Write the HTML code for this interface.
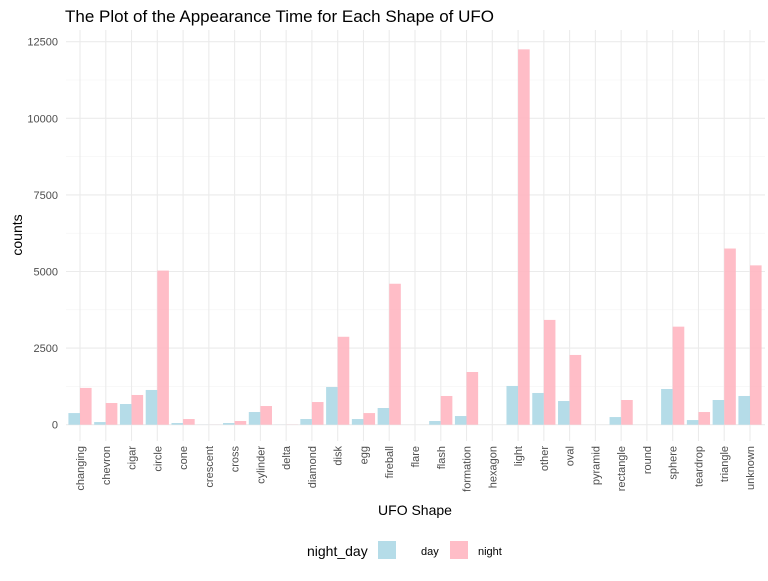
<!DOCTYPE html>
<html><head><meta charset="utf-8"><style>
body{margin:0;background:#fff;font-family:"Liberation Sans",sans-serif;}
</style></head><body>
<svg id="chart" width="768" height="576" xmlns="http://www.w3.org/2000/svg" font-family="Liberation Sans, sans-serif">
<text x="65" y="22" font-size="17" fill="#000">The Plot of the Appearance Time for Each Shape of UFO</text>
<text transform="translate(22,235) rotate(-90)" text-anchor="middle" font-size="14">counts</text>
<text x="415" y="515" text-anchor="middle" font-size="14">UFO Shape</text>
<g id="grid"></g><g id="bars"></g><g id="labels"></g>
<g>
<text x="307" y="556" font-size="14">night_day</text>
<rect x="378" y="541" width="18" height="18" fill="#add8e6" opacity="0.9"/>
<text x="421" y="555" font-size="11">day</text>
<rect x="450" y="541" width="18" height="18" fill="#ffb6c1" opacity="0.9"/>
<text x="478" y="555" font-size="11">night</text>
</g>
</svg>
<script>
const categories=["changing","chevron","cigar","circle","cone","crescent","cross","cylinder","delta","diamond","disk","egg","fireball","flare","flash","formation","hexagon","light","other","oval","pyramid","rectangle","round","sphere","teardrop","triangle","unknown"];
const dayValues=[380,87,675,1133,55,2,55,414,2,185,1230,185,545,0,120,283,0,1264,1035,773,0,250,0,1165,152,806,937];
const nightValues=[1200,708,970,5030,185,2,120,610,5,740,2870,380,4600,0,937,1720,0,12250,3420,2276,0,806,0,3200,414,5750,5200];
const yTicks=[0,2500,5000,7500,10000,12500];
</script>
<script>
const NS="http://www.w3.org/2000/svg";
// note: categories list has 27 entries; visible labels in reference are 25 (crescent..); keep as read
const cats=categories;
const x0=80,x1=750;
const step=(x1-x0)/(cats.length-1);
const xc=i=>x0+i*step;
const y=v=>424.7-v*0.03064;
const grid=document.getElementById('grid'),bars=document.getElementById('bars'),labels=document.getElementById('labels');
function mk(tag,attrs,parent){const e=document.createElementNS(NS,tag);for(const k in attrs)e.setAttribute(k,attrs[k]);parent.appendChild(e);return e;}
for(let i=0;i<yTicks.length;i++){
  const v=yTicks[i];
  const l=mk('line',{x1:66,x2:765,y1:y(v),y2:y(v),stroke:'#ebebeb','stroke-width':1.1},grid);
  
  
  if(i<yTicks.length-1){const m=mk('line',{x1:66,x2:765,y1:y(v+1250),y2:y(v+1250),stroke:'#f3f3f3','stroke-width':0.6},grid);
  
  }
  const t=mk('text',{x:58,y:y(v)+4,'text-anchor':'end','font-size':11,fill:'#4d4d4d'},labels);
  t.textContent=v;
  
  
}
const bw=step*0.9/2;
cats.forEach((c,i)=>{
  const g=mk('line',{x1:xc(i),x2:xc(i),y1:30,y2:441,stroke:'#ebebeb','stroke-width':1.1},grid);
  
  
  const d=mk('rect',{x:xc(i)-bw,y:y(dayValues[i]),width:bw,height:424.7-y(dayValues[i]),fill:'#add8e6','fill-opacity':0.9},bars);
  
  
  const n=mk('rect',{x:xc(i),y:y(nightValues[i]),width:bw,height:424.7-y(nightValues[i]),fill:'#ffb6c1','fill-opacity':0.9},bars);
  
  
  const t=mk('text',{transform:`translate(${xc(i)+4},446) rotate(-90)`,'text-anchor':'end','font-size':11,fill:'#4d4d4d'},labels);
  t.textContent=c;
  
  
});
</script>
</body></html>
